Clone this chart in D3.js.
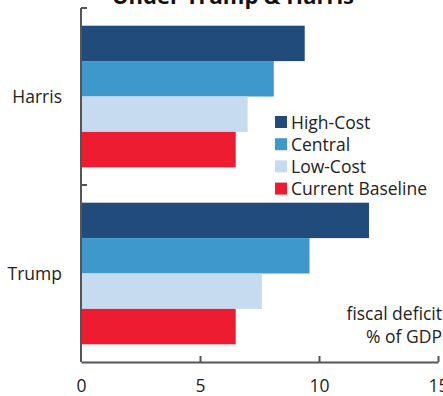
<!DOCTYPE html>
<html>
<head>
<meta charset="utf-8">
<script src="https://cdn.jsdelivr.net/npm/d3@7"></script>
<style>
  body { margin: 0; background: #fff; }
  svg { display: block; font-family: "Open Sans", sans-serif; }
</style>
</head>
<body>
<div id="chart"></div>
<script>
const candidates = ['Harris', 'Trump'];
const scenarios = ['High-Cost', 'Central', 'Low-Cost', 'Current Baseline'];
const harrisValues = [9.4, 8.1, 7.0, 6.5];
const trumpValues = [12.1, 9.6, 7.6, 6.5];
const xTicks = [0, 5, 10, 15];
const title = 'Under Trump & Harris';
const noteLines = ['fiscal deficit', '% of GDP'];

const colors = {
  'High-Cost': '#204b7b',
  'Central': '#3e98cc',
  'Low-Cost': '#c6daf0',
  'Current Baseline': '#ee1c31'
};

const rows = [
  { name: 'Harris', values: harrisValues },
  { name: 'Trump', values: trumpValues }
];

const width = 443, height = 396;
const margin = { top: 8, right: 5, bottom: 34, left: 81 };

const svg = d3.select('#chart')
  .append('svg')
  .attr('width', width)
  .attr('height', height);

const x = d3.scaleLinear()
  .domain([0, 15])
  .range([margin.left, margin.left + 357]);

const y = d3.scaleBand()
  .domain(candidates)
  .range([margin.top, height - margin.bottom])
  .paddingInner(0.2)
  .paddingOuter(0.1);

const ySub = d3.scaleBand()
  .domain(scenarios)
  .range([0, y.bandwidth()]);

// title, clipped at top like the source
svg.append('text')
  .attr('x', 233)
  .attr('y', 4)
  .attr('text-anchor', 'middle')
  .style('font-size', '22px')
  .style('font-weight', 'bold')
  .style('fill', '#111')
  .text(title);

// bars
const groups = svg.selectAll('.grp')
  .data(rows)
  .enter()
  .append('g')
  .attr('class', 'grp')
  .attr('transform', d => `translate(0,${y(d.name)})`);

groups.selectAll('rect')
  .data(d => d.values.map((v, i) => ({ key: scenarios[i], value: v })))
  .enter()
  .append('rect')
  .attr('x', x(0))
  .attr('y', d => ySub(d.key))
  .attr('width', d => x(d.value) - x(0))
  .attr('height', ySub.bandwidth())
  .attr('fill', d => colors[d.key]);

// left axis: line with ticks at band edges pointing inward
const yAxisG = svg.append('g');
const edges = [y.range()[0], y.range()[0] + y.step(), y.range()[1]];
yAxisG.append('line')
  .attr('x1', x(0)).attr('x2', x(0))
  .attr('y1', edges[0]).attr('y2', edges[2])
  .attr('stroke', '#555').attr('stroke-width', 2);
yAxisG.selectAll('.edge')
  .data(edges.slice(0, 2))
  .enter()
  .append('line')
  .attr('x1', x(0)).attr('x2', x(0) + 6)
  .attr('y1', d => d).attr('y2', d => d)
  .attr('stroke', '#555').attr('stroke-width', 2);

yAxisG.selectAll('.lbl')
  .data(candidates)
  .enter()
  .append('text')
  .attr('x', 62)
  .attr('y', d => y(d) - y.step() * 0.1 + y.step() / 2 + 6)
  .attr('text-anchor', 'end')
  .style('font-size', '17.5px')
  .style('fill', '#222')
  .text(d => d);

// bottom axis
const xAxis = d3.axisBottom(x)
  .tickValues(xTicks)
  .tickSize(-6)
  .tickPadding(18)
  .tickSizeOuter(0);

const xAxisG = svg.append('g')
  .attr('transform', `translate(0,${height - margin.bottom})`)
  .call(xAxis);

xAxisG.select('.domain').attr('stroke', '#555').attr('stroke-width', 2);
xAxisG.selectAll('.tick line').attr('stroke', '#555').attr('stroke-width', 2)
  .attr('opacity', d => d === 0 ? 0 : 1);
xAxisG.selectAll('.tick text')
  .style('font-family', '"Open Sans", sans-serif')
  .style('font-size', '17.5px')
  .style('fill', '#222');

// legend
const legend = svg.append('g')
  .attr('transform', 'translate(275,122)');

const li = legend.selectAll('.li')
  .data(scenarios)
  .enter()
  .append('g')
  .attr('transform', (d, i) => `translate(0,${i * 22.2})`);

li.append('rect')
  .attr('x', 0).attr('y', -6)
  .attr('width', 12).attr('height', 12)
  .attr('fill', d => colors[d]);

li.append('text')
  .attr('x', 16)
  .attr('y', 6.5)
  .style('font-size', '17.5px')
  .style('fill', '#222')
  .text(d => d);

// unit note
svg.selectAll('.note')
  .data(noteLines)
  .enter()
  .append('text')
  .attr('x', 442)
  .attr('y', (d, i) => 320 + i * 23)
  .attr('text-anchor', 'end')
  .style('font-size', '17.5px')
  .style('fill', '#222')
  .text(d => d);
</script>
</body>
</html>
